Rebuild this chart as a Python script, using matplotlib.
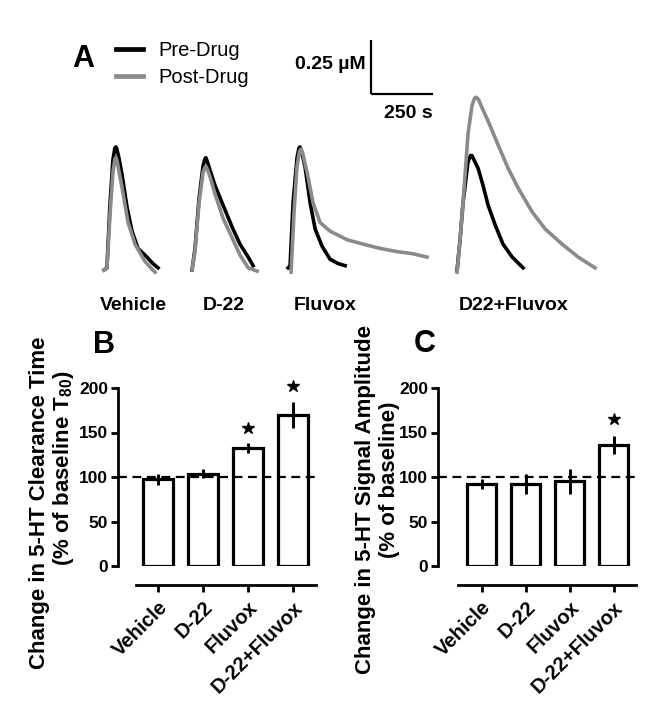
import numpy as np
import matplotlib
matplotlib.use("Agg")
import matplotlib.pyplot as plt

plt.rcParams['font.family'] = ['Liberation Sans', 'DejaVu Sans']
plt.rcParams['font.weight'] = 'bold'
plt.rcParams['mathtext.fontset'] = 'custom'
plt.rcParams['mathtext.rm'] = 'Liberation Sans:bold'
plt.rcParams['mathtext.bf'] = 'Liberation Sans:bold'
plt.rcParams['mathtext.default'] = 'bf'

# ---------------- Panel A traces (time s, concentration uM) ----------------
veh_pre_t = [0, 12, 24, 36, 44, 48, 52, 60, 73, 93, 113, 137, 173, 197, 218]
veh_pre_c = [0, 0.01, 0.30, 0.51, 0.565, 0.57, 0.56, 0.52, 0.44, 0.29, 0.18, 0.10, 0.06, 0.03, 0.01]
veh_post_t = [0, 12, 24, 36, 44, 48, 52, 60, 73, 97, 125, 165, 197, 206]
veh_post_c = [0, 0.01, 0.25, 0.45, 0.515, 0.52, 0.51, 0.46, 0.38, 0.22, 0.12, 0.04, 0.0, -0.01]

d22_pre_t = [0, 12, 28, 44, 52, 56, 62, 73, 93, 125, 161, 193, 226, 246]
d22_pre_c = [0, 0.10, 0.33, 0.48, 0.515, 0.52, 0.50, 0.46, 0.39, 0.30, 0.20, 0.12, 0.06, 0.02]
d22_post_t = [0, 12, 28, 44, 52, 56, 62, 73, 93, 125, 161, 193, 226, 262]
d22_post_c = [0, 0.09, 0.31, 0.45, 0.475, 0.48, 0.465, 0.43, 0.35, 0.24, 0.15, 0.07, 0.01, -0.005]

flu_pre_t = [-8, 0, 12, 28, 36, 40, 46, 60, 81, 101, 129, 161, 193, 222]
flu_pre_c = [0.01, 0.02, 0.31, 0.52, 0.565, 0.57, 0.55, 0.48, 0.31, 0.19, 0.11, 0.05, 0.03, 0.02]
flu_post_t = [4, 16, 28, 38, 44, 50, 69, 93, 121, 161, 230, 294, 363, 431, 496, 552]
flu_post_c = [-0.01, 0.27, 0.48, 0.55, 0.56, 0.545, 0.45, 0.31, 0.22, 0.18, 0.14, 0.12, 0.10, 0.085, 0.075, 0.06]

combo_pre_t = [0, 12, 24, 44, 54, 60, 68, 85, 105, 125, 153, 185, 222, 266]
combo_pre_c = [0, 0.14, 0.31, 0.50, 0.53, 0.53, 0.51, 0.47, 0.39, 0.30, 0.21, 0.12, 0.06, 0.01]
combo_post_t = [0, 12, 24, 44, 60, 70, 77, 86, 101, 125, 165, 206, 246, 302, 355, 423, 488, 556]
combo_post_c = [-0.01, 0.14, 0.31, 0.63, 0.76, 0.795, 0.80, 0.79, 0.75, 0.69, 0.58, 0.47, 0.38, 0.27, 0.19, 0.12, 0.06, 0.01]

trace_names = ['Vehicle', 'D-22', 'Fluvox', 'D22+Fluvox']
trace_offsets = [419, 774, 1169, 1842]          # horizontal placement (s)
label_x = [538, 900, 1310, 2070]                  # label centre (s)

# ---------------- Panels B / C ----------------
cats = ['Vehicle', 'D-22', 'Fluvox', 'D-22+Fluvox']
clear_mean = [97.5, 103.5, 133, 170]
clear_sem = [6, 5, 5.5, 14.5]
clear_star = [np.nan, np.nan, 155, 202]
amp_mean = [92, 92, 95, 136]
amp_sem = [5.5, 11, 14.5, 10.5]
amp_star = [np.nan, np.nan, np.nan, 165]

W, H = 661, 720
fig = plt.figure(figsize=(W / 100, H / 100), dpi=100)

BLACK = '#000000'
GREY = '#8a8a8a'
LW = 2.6

# Panel A axes: pixel mapping
axA = fig.add_axes([0, 1 - 320 / H, 1, 320 / H])
axA.set_xlim(0, W * 4.03)
axA.set_ylim((270 - 320) * 0.00463, 270 * 0.00463)
axA.axis('off')

pre_sets = [(veh_pre_t, veh_pre_c), (d22_pre_t, d22_pre_c), (flu_pre_t, flu_pre_c), (combo_pre_t, combo_pre_c)]
post_sets = [(veh_post_t, veh_post_c), (d22_post_t, d22_post_c), (flu_post_t, flu_post_c), (combo_post_t, combo_post_c)]
for i, (off, name) in enumerate(zip(trace_offsets, trace_names)):
    t, c = pre_sets[i]
    lpre, = axA.plot(np.array(t) + off, c, color=BLACK, lw=LW, solid_joinstyle='round')
    t, c = post_sets[i]
    lpost, = axA.plot(np.array(t) + off, c, color=GREY, lw=LW, solid_joinstyle='round')
    axA.text(label_x[i], (270 - 306) * 0.00463, name, ha='center', va='center', fontsize=14, fontweight='bold')

# scale bar
SCALE_T, SCALE_C = 250, 0.25
sb_x, sb_y = 1495, 0.815
axA.plot([sb_x, sb_x], [sb_y, sb_y + SCALE_C], color='black', lw=1.6, solid_capstyle='butt')
axA.plot([sb_x, sb_x + SCALE_T], [sb_y, sb_y], color='black', lw=1.6, solid_capstyle='butt')
axA.text(sb_x - 20, sb_y + 0.135, '0.25 \u00b5M', ha='right', va='center', fontsize=14, fontweight='bold')
axA.text(sb_x + SCALE_T, sb_y - 0.090, '250 s', ha='right', va='center', fontsize=14, fontweight='bold')

leg = axA.legend([lpre, lpost], ['Pre-Drug', 'Post-Drug'], loc='upper left',
                 bbox_to_anchor=(116 / W, 1 - 41 / H), bbox_transform=fig.transFigure,
                 frameon=False, handlelength=1.35, handletextpad=0.75, labelspacing=0.42,
                 borderpad=0, borderaxespad=0, prop={'size': 14.5, 'weight': 'normal'})
for h in leg.get_lines():
    h.set_linewidth(3.4)

fig.text(72 / W, 1 - 59 / H, 'A', fontsize=22, fontweight='bold', ha='left', va='center')


def bar_panel(left_px, x_lo, spine_lo, means, sems, stars):
    ax = fig.add_axes([left_px / W, 1 - 566 / H, 198 / W, 215 * 0.89 / H])
    x = np.arange(len(cats))
    ax.bar(x, means, width=0.67, facecolor='white', edgecolor='black', linewidth=2.3, zorder=2)
    ax.errorbar(x, means, yerr=sems, fmt='none', ecolor='black', elinewidth=2.1, capsize=0, zorder=3)
    ax.plot(x, stars, linestyle='none', marker='*', ms=9, color='black')
    ax.axhline(100, color='black', lw=1.6, ls=(0, (4, 2.5)), zorder=4)
    ax.set_xlim(x_lo, 3.51)
    ax.set_ylim(0, 215)
    ax.spines['top'].set_visible(False)
    ax.spines['right'].set_visible(False)
    ax.spines['left'].set_bounds(0, 200)
    ax.spines['bottom'].set_bounds(spine_lo, 3.51)
    ax.spines['bottom'].set_position(('outward', 14))
    for s in ('left', 'bottom'):
        ax.spines[s].set_linewidth(2.0)
    ax.set_yticks([0, 50, 100, 150, 200])
    ax.set_xticks(x)
    ax.set_xticklabels(cats, rotation=45, ha='right', rotation_mode='anchor', fontsize=14.5, fontweight='bold')
    ax.tick_params(axis='both', width=2.0, length=5, labelsize=12.5)
    ax.tick_params(axis='x', labelsize=14.5, pad=4)
    ax.tick_params(axis='y', pad=2)
    return ax


axB = bar_panel(118, -0.895, -0.49, clear_mean, clear_sem, clear_star)
axC = bar_panel(438, -0.99, -0.53, amp_mean, amp_sem, amp_star)

fig.text(93 / W, 1 - 345 / H, 'B', fontsize=22, fontweight='bold', ha='left', va='center')
fig.text(414 / W, 1 - 344 / H, 'C', fontsize=22, fontweight='bold', ha='left', va='center')

fig.text(40 / W, 1 - 503 / H, 'Change in 5-HT Clearance Time', rotation=90, ha='center', va='center', fontsize=16, fontweight='bold')
fig.text(63 / W, 1 - 468 / H, '(% of baseline T$_{80}$)', rotation=90, ha='center', va='center', fontsize=16, fontweight='bold')
fig.text(366 / W, 1 - 500 / H, 'Change in 5-HT Signal Amplitude', rotation=90, ha='center', va='center', fontsize=16, fontweight='bold')
fig.text(390 / W, 1 - 480 / H, '(% of baseline)', rotation=90, ha='center', va='center', fontsize=16, fontweight='bold')

fig.savefig('out.png', dpi=100)
